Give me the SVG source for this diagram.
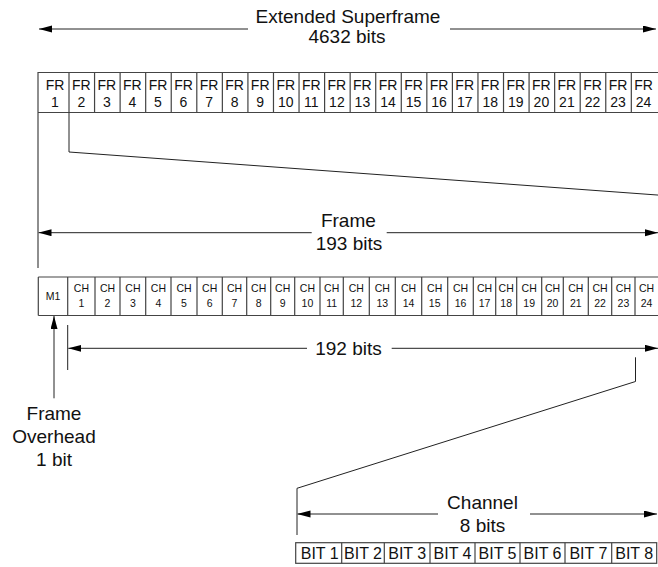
<svg xmlns="http://www.w3.org/2000/svg" width="658" height="567" viewBox="0 0 658 567">
<defs>
<marker id="ah" markerUnits="userSpaceOnUse" markerWidth="13" markerHeight="8" refX="13" refY="3.5" orient="auto">
<path d="M0,0 L13,3.5 L0,7 z" fill="#000"/>
</marker>
<style>
.cell{fill:none;stroke:#444;stroke-width:1.2}
.ln{fill:none;stroke:#222;stroke-width:1}
.arr{fill:none;stroke:#222;stroke-width:1;marker-end:url(#ah)}
.big{font-family:"Liberation Sans",Arial,sans-serif;font-size:19px;fill:#111;text-anchor:middle}
.fr{font-family:"Liberation Sans",Arial,sans-serif;font-size:14px;fill:#111;text-anchor:middle}
.ch{font-family:"Liberation Sans",Arial,sans-serif;font-size:10.5px;fill:#111;text-anchor:middle}
.bit{font-family:"Liberation Sans",Arial,sans-serif;font-size:16px;fill:#111;text-anchor:middle}
</style>
</defs>
<rect width="658" height="567" fill="#fff"/>

<g id="superframe-label">
<text class="big" x="348" y="23">Extended Superframe</text>
<text class="big" x="347" y="43">4632 bits</text>
</g>

<g id="fr-row">
<path class="cell" d="M38,72.5 H660 M38,112.5 H660 M38,72 V268 M69,72.5 V112.5 M94.56,72.5 V112.5 M120.12,72.5 V112.5 M145.68,72.5 V112.5 M171.24,72.5 V112.5 M196.8,72.5 V112.5 M222.36,72.5 V112.5 M247.92,72.5 V112.5 M273.48,72.5 V112.5 M299.04,72.5 V112.5 M324.6,72.5 V112.5 M350.16,72.5 V112.5 M375.72,72.5 V112.5 M401.28,72.5 V112.5 M426.84,72.5 V112.5 M452.4,72.5 V112.5 M477.96,72.5 V112.5 M503.52,72.5 V112.5 M529.08,72.5 V112.5 M554.64,72.5 V112.5 M580.2,72.5 V112.5 M605.76,72.5 V112.5 M631.32,72.5 V112.5"/>
<g class="fr">
<text x="55" y="90">FR</text><text x="55" y="106.5">1</text>
<text x="81.3" y="90">FR</text><text x="81.3" y="106.5">2</text>
<text x="106.8" y="90">FR</text><text x="106.8" y="106.5">3</text>
<text x="132.4" y="90">FR</text><text x="132.4" y="106.5">4</text>
<text x="158" y="90">FR</text><text x="158" y="106.5">5</text>
<text x="183.5" y="90">FR</text><text x="183.5" y="106.5">6</text>
<text x="209.1" y="90">FR</text><text x="209.1" y="106.5">7</text>
<text x="234.6" y="90">FR</text><text x="234.6" y="106.5">8</text>
<text x="260.2" y="90">FR</text><text x="260.2" y="106.5">9</text>
<text x="285.8" y="90">FR</text><text x="285.8" y="106.5">10</text>
<text x="311.3" y="90">FR</text><text x="311.3" y="106.5">11</text>
<text x="336.9" y="90">FR</text><text x="336.9" y="106.5">12</text>
<text x="362.4" y="90">FR</text><text x="362.4" y="106.5">13</text>
<text x="388" y="90">FR</text><text x="388" y="106.5">14</text>
<text x="413.6" y="90">FR</text><text x="413.6" y="106.5">15</text>
<text x="439.1" y="90">FR</text><text x="439.1" y="106.5">16</text>
<text x="464.7" y="90">FR</text><text x="464.7" y="106.5">17</text>
<text x="490.2" y="90">FR</text><text x="490.2" y="106.5">18</text>
<text x="515.8" y="90">FR</text><text x="515.8" y="106.5">19</text>
<text x="541.4" y="90">FR</text><text x="541.4" y="106.5">20</text>
<text x="566.9" y="90">FR</text><text x="566.9" y="106.5">21</text>
<text x="592.5" y="90">FR</text><text x="592.5" y="106.5">22</text>
<text x="618" y="90">FR</text><text x="618" y="106.5">23</text>
<text x="643.6" y="90">FR</text><text x="643.6" y="106.5">24</text>
</g>
</g>

<g id="frame-label">
<text class="big" x="348.4" y="226.5">Frame</text>
<text class="big" x="349" y="250">193 bits</text>
</g>

<g id="ch-row">
<path class="cell" d="M38.3,277 H660 M38.3,315.5 H660 M38.3,277 V315.5 M67.7,277 V315.5 M95,277 V315.5 M120,277 V315.5 M145.7,277 V315.5 M171,277 V315.5 M197,277 V315.5 M222.3,277 V315.5 M246.7,277 V315.5 M270.7,277 V315.5 M294.7,277 V315.5 M320,277 V315.5 M343.3,277 V315.5 M369.3,277 V315.5 M395.3,277 V315.5 M421.7,277 V315.5 M447.7,277 V315.5 M473.3,277 V315.5 M495.7,277 V315.5 M516.7,277 V315.5 M541.7,277 V315.5 M563.3,277 V315.5 M588.3,277 V315.5 M611.7,277 V315.5 M635,277 V315.5"/>
<g class="ch">
<text x="53" y="300">M1</text>
<text x="81.4" y="292">CH</text><text x="81.4" y="306.5">1</text>
<text x="107.5" y="292">CH</text><text x="107.5" y="306.5">2</text>
<text x="132.9" y="292">CH</text><text x="132.9" y="306.5">3</text>
<text x="158.4" y="292">CH</text><text x="158.4" y="306.5">4</text>
<text x="184" y="292">CH</text><text x="184" y="306.5">5</text>
<text x="209.7" y="292">CH</text><text x="209.7" y="306.5">6</text>
<text x="234.5" y="292">CH</text><text x="234.5" y="306.5">7</text>
<text x="258.7" y="292">CH</text><text x="258.7" y="306.5">8</text>
<text x="282.7" y="292">CH</text><text x="282.7" y="306.5">9</text>
<text x="307.4" y="292">CH</text><text x="307.4" y="306.5">10</text>
<text x="331.7" y="292">CH</text><text x="331.7" y="306.5">11</text>
<text x="356.3" y="292">CH</text><text x="356.3" y="306.5">12</text>
<text x="382.3" y="292">CH</text><text x="382.3" y="306.5">13</text>
<text x="408.5" y="292">CH</text><text x="408.5" y="306.5">14</text>
<text x="434.7" y="292">CH</text><text x="434.7" y="306.5">15</text>
<text x="460.5" y="292">CH</text><text x="460.5" y="306.5">16</text>
<text x="484.5" y="292">CH</text><text x="484.5" y="306.5">17</text>
<text x="506.2" y="292">CH</text><text x="506.2" y="306.5">18</text>
<text x="529.2" y="292">CH</text><text x="529.2" y="306.5">19</text>
<text x="552.5" y="292">CH</text><text x="552.5" y="306.5">20</text>
<text x="575.8" y="292">CH</text><text x="575.8" y="306.5">21</text>
<text x="600" y="292">CH</text><text x="600" y="306.5">22</text>
<text x="623.4" y="292">CH</text><text x="623.4" y="306.5">23</text>
<text x="646.5" y="292">CH</text><text x="646.5" y="306.5">24</text>
</g>
</g>

<g id="bits192-label">
<text class="big" x="348.5" y="354.5">192 bits</text>
</g>

<g id="overhead-label">
<text class="big" x="54" y="420">Frame</text>
<text class="big" x="54" y="443">Overhead</text>
<text class="big" x="54" y="466">1 bit</text>
</g>

<g id="channel-label">
<text class="big" x="482.5" y="508.5">Channel</text>
<text class="big" x="482.5" y="532">8 bits</text>
</g>

<g id="bit-row">
<rect class="cell" x="295.7" y="542.7" width="361" height="20.6"/>
<path class="cell" d="M341.7,542.7 V563.3 M384.3,542.7 V563.3 M430,542.7 V563.3 M475,542.7 V563.3 M520,542.7 V563.3 M565,542.7 V563.3 M611.7,542.7 V563.3"/>
<g class="bit">
<text x="319.7" y="558.5">BIT 1</text>
<text x="363" y="558.5">BIT 2</text>
<text x="407.2" y="558.5">BIT 3</text>
<text x="452.5" y="558.5">BIT 4</text>
<text x="497.5" y="558.5">BIT 5</text>
<text x="542.5" y="558.5">BIT 6</text>
<text x="588.4" y="558.5">BIT 7</text>
<text x="634.2" y="558.5">BIT 8</text>
</g>
</g>

<g id="connectors">
<line class="arr" x1="248" y1="29" x2="39" y2="29"/>
<line class="arr" x1="450" y1="29" x2="656" y2="29"/>
<polyline class="ln" points="69,112.5 69,152 660,195.2"/>
<line class="arr" x1="311.7" y1="232.7" x2="38.5" y2="232.7"/>
<line class="arr" x1="386.7" y1="232.7" x2="658" y2="232.7"/>
<line class="arr" x1="307" y1="348.3" x2="68.3" y2="348.3"/>
<line class="arr" x1="391.7" y1="348.3" x2="658" y2="348.3"/>
<line class="ln" x1="67.7" y1="325" x2="67.7" y2="370"/>
<line class="arr" x1="54" y1="398.3" x2="54" y2="316"/>
<polyline class="ln" points="635.5,357.3 635.5,381.5 297,488.3 297,535"/>
<line class="arr" x1="438" y1="514" x2="297.5" y2="514"/>
<line class="arr" x1="530" y1="514" x2="657" y2="514"/>
</g>
</svg>
